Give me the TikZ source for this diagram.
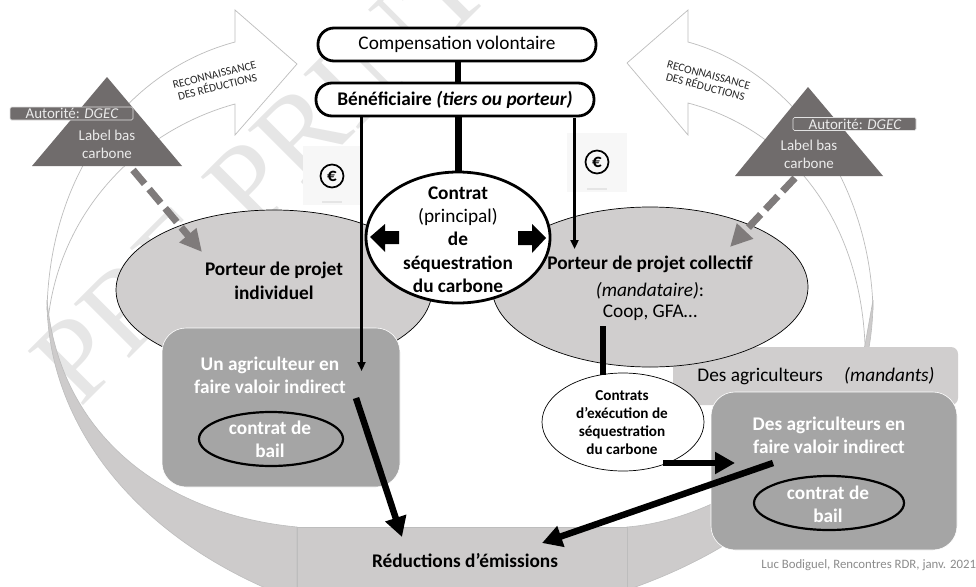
\documentclass[tikz,border=0pt]{standalone}
\usepackage{fontspec}
\setmainfont{Carlito}
\newfontfamily\wmfont{Liberation Serif}
\usetikzlibrary{arrows.meta,shapes.geometric,calc}
\definecolor{bandgray}{HTML}{CDCBCB}
\definecolor{ellgray}{HTML}{D0CECE}
\definecolor{boxgray}{HTML}{A5A5A5}
\definecolor{triangray}{HTML}{706C6C}
\definecolor{dashgray}{HTML}{7F7B7B}
\definecolor{wmgray}{HTML}{E6E6E6}
\definecolor{arcline}{HTML}{BDBDBD}
\newcommand{\fs}[1]{\fontsize{#1}{#1}\selectfont}
\tikzset{
  every node/.style={inner sep=0pt,outer sep=0pt,text=black},
  pill/.style={draw=black,line width=2.8pt,fill=white,rounded corners=16pt,minimum height=33pt},
  big/.style={ellipse,draw=black,line width=0.7pt,fill=ellgray,minimum width=316pt,minimum height=160pt},
  farmbox/.style={draw=white,line width=0.6pt,fill=boxgray,rounded corners=24pt},
  whitetxt/.style={text=white,font=\fs{19.3}\bfseries,align=center},
  bail/.style={ellipse,draw=black,line width=2.2pt,minimum height=54pt},
  arc/.style={draw=arcline,line width=0.7pt},
  band/.style={draw=arcline,line width=0.6pt,fill=bandgray},
  triang/.style={fill=triangray},
  authtag/.style={fill=triangray,rounded corners=1.5pt,draw=white!80!triangray,line width=0.6pt},
  authtxt/.style={text=white!92!black,font=\fs{15}},
  recon/.style={font=\fs{11.4},align=center,text=black!85},
  dasharrow/.style={draw=dashgray,line width=7pt,dash pattern=on 18pt off 7pt,-{Triangle[length=22pt,width=21pt,color=dashgray]}},
  heavy/.style={draw=black,line width=6pt},
  heavyarrow/.style={draw=black,line width=6.5pt,-{Triangle[length=20pt,width=21pt]}},
  thinarrow/.style={draw=black,line width=2.2pt,-{Triangle[length=9pt,width=8pt]}},
  eurocard/.style={fill=black!3},
  eurosign/.style={circle,draw=black,line width=1.7pt,minimum size=23pt,font=\fs{19}\bfseries},
}
\begin{document}
\begin{tikzpicture}[x=1pt,y=-1pt]
\useasboundingbox (0,0) rectangle (976,586);
\clip (0,0) rectangle (976,586);
\fill[white] (0,0) rectangle (976,586);
% watermark
\node[rotate=45,anchor=base west,text=wmgray,font=\wmfont\fs{118}] (wm) at (80,408) {PRE PRINT};
% left white arrow
\draw[arc,fill=white] (47,310) .. controls (50,170) and (130,70) .. (235,42) -- (235,10) -- (297,64) -- (235,135) -- (235,104) .. controls (140,130) and (60,210) .. (48,320);
% right white arrow
\draw[arc,fill=white] (873,310) .. controls (870,180) and (790,70) .. (688,42) -- (688,10) -- (627,63) -- (688,135) -- (688,103) .. controls (790,130) and (860,220) .. (865,345);
% bottom bands
\draw[band] (297,527) .. controls (170,515) and (60,440) .. (47,300) .. controls (47,420) and (130,530) .. (270,590) -- (297,590) -- cycle;
\draw[band] (627,527) .. controls (720,520) and (840,440) .. (865,345) -- (873,300) .. controls (873,420) and (800,530) .. (627,590) -- cycle;
\draw[band] (297,527) rectangle (627,590);
\node[font=\fs{19.3}\bfseries] (reduc) at (465,561) {Réductions d’émissions};
% authority triangles
\coordinate (lt) at (133,170);
\coordinate (rt) at (795,178);
\fill[triang] (107,77) -- (182,166) -- (32,166) -- cycle;
\fill[triang] (808,87) -- (883,176) -- (735,176) -- cycle;
\node[authtag,minimum width=123pt,minimum height=13pt] (tagl) at (71.5,113.5) {};
\node[authtxt] (tagltxt) at (72,113.5) {Autorité: \textit{DGEC}};
\node[authtag,minimum width=123pt,minimum height=13pt] (tagr) at (854.5,124) {};
\node[authtxt] (tagrtxt) at (855,124) {Autorité: \textit{DGEC}};
\node[font=\fs{15},text=white!92!black,align=center] (lbl) at (107,144.5) {Label bas\\[3pt]carbone};
\node[font=\fs{15},text=white!92!black,align=center] (lbr) at (809,154.5) {Label bas\\[3pt]carbone};
\node[recon,rotate=14] (rconl) at (216,81) {RECONNAISSANCE\\[1pt]DES RÉDUCTIONS};
\node[recon,rotate=-15] (rconr) at (707,81) {RECONNAISSANCE\\[1pt]DES RÉDUCTIONS};
% euro cards
\fill[eurocard] (303,146) rectangle (361,205);
\fill[eurocard] (567,133) rectangle (627,192);
\fill[black!10] (322,201) rectangle (342,202.5);
\fill[black!10] (587,188) rectangle (607,189.5);
\node[eurosign] (eurl) at (332,176) {€};
\node[eurosign] (eurr) at (597,162) {€};
% large ellipses
\node[big] (ind) at (274,290) {};
\node[font=\fs{19.3}\bfseries,align=center] (indtxt) at (274,281) {Porteur de projet\\[4.5pt]individuel};
% mandants box
\fill[ellgray,rounded corners=7pt] (673,347) rectangle (958,405);
\node[font=\fs{19.3}] (mand) at (816,376) {Des agriculteurs\hspace{1.1em}\textit{(mandants)}};
\node[big] (col) at (650,287) {};
\node[font=\fs{19.3},align=center] (coltxt) at (650,288.5) {\textbf{Porteur de projet collectif}\\[7.5pt]\textit{(mandataire)}:\\[1.5pt]Coop, GFA…};
% farmer boxes
\draw[farmbox] (162,328) rectangle (400,487);
\node[whitetxt] (farml) at (270,375) {Un agriculteur en\\[4pt]faire valoir indirect};
\node[bail,minimum width=144pt] (baill) at (271,439) {};
\node[whitetxt] (bailltxt) at (270,439.5) {contrat de\\[4pt]bail};
\draw[farmbox] (711,392) rectangle (957,550);
\node[whitetxt] (farmr) at (829,435) {Des agriculteurs en\\[4pt]faire valoir indirect};
\node[bail,minimum width=150pt] (bailr) at (829,503) {};
\node[whitetxt] (bailrtxt) at (828,504.5) {contrat de\\[4pt]bail};
% contract ellipses
\node[ellipse,draw=black,line width=0.7pt,fill=white,minimum width=162pt,minimum height=98pt] (exec) at (623,422) {};
\node[font=\fs{15.2}\bfseries,align=center] (exectxt) at (622,422.5) {Contrats\\[3pt]d’exécution de\\[3pt]séquestration\\[3pt]du carbone};
% top pills
\node[pill,minimum width=278pt,font=\fs{19.3}] (comp) at (457,44.5) {Compensation volontaire};
\node[pill,minimum width=278pt,font=\fs{19.3}] (benef) at (455,99.5) {\textbf{Bénéficiaire \textit{(tiers ou porteur)}}};
% heavy connectors
\coordinate (c1) at (458,62);
\coordinate (c2) at (458,82);
\draw[heavy] (c1) -- (c2);
\coordinate (c3) at (458,117);
\coordinate (c4) at (458,175);
\draw[heavy,line width=7pt] (c3) -- (c4);
\coordinate (a1) at (361.5,117);
\coordinate (a2) at (361.5,371);
\draw[thinarrow] (a1) -- (a2);
\coordinate (b1) at (574.5,118);
\coordinate (b2) at (574.5,249);
\draw[thinarrow] (b1) -- (b2);
% central contract
\node[ellipse,draw=black,line width=2.8pt,fill=white,minimum width=184pt,minimum height=131pt] (contrat) at (458,237.5) {};
\node[font=\fs{19.3},align=center] (contxt) at (458,239.5) {\textbf{Contrat}\\[4pt](principal)\\[4pt]\textbf{de}\\[4pt]\textbf{séquestration}\\[4pt]\textbf{du carbone}};
\fill[black] (370,237) -- (385,224) -- (385,231) -- (399,231) -- (399,244) -- (385,244) -- (385,252) -- cycle;
\fill[black] (546,238) -- (532,224) -- (532,231) -- (518,231) -- (518,245) -- (532,245) -- (532,253) -- cycle;
% dashed authority arrows
\coordinate (dl) at (202,252);
\coordinate (dr) at (730,247);
\draw[dasharrow] (lt) -- (dl);
\draw[dasharrow] (rt) -- (dr);
% flow arrows
\coordinate (d1) at (603,326);
\coordinate (d2) at (603,375);
\draw[heavy,line width=6.5pt] (d1) -- (d2);
\coordinate (e1) at (663,463);
\coordinate (e2) at (735,463);
\draw[heavyarrow] (e1) -- (e2);
\coordinate (f1) at (773,463);
\coordinate (f2) at (542,543);
\draw[heavyarrow] (f1) -- (f2);
\coordinate (g1) at (356,398);
\coordinate (g2) at (402,537);
\draw[heavyarrow] (g1) -- (g2);
\node[font=\fs{12.8},anchor=east,text=black!45] (credit) at (976,565) {Luc Bodiguel, Rencontres RDR, janv. 2021};
\end{tikzpicture}
\end{document}
